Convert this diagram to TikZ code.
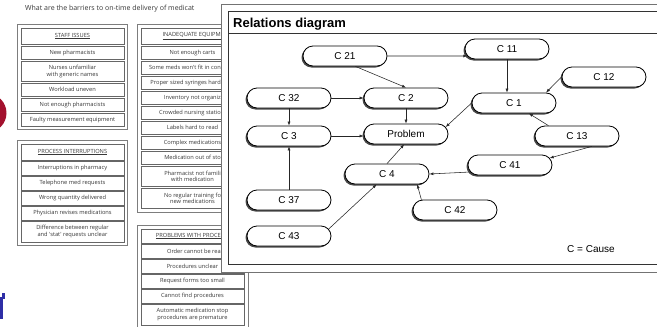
\documentclass[tikz,border=0pt]{standalone}
\usepackage{fontspec}
\setmainfont{Liberation Sans}
\newfontfamily\handfont{Open Sans}
\usetikzlibrary{shapes.misc,shadows,arrows.meta}
\definecolor{inkgrey}{HTML}{383838}
\definecolor{boxgrey}{HTML}{666666}
\definecolor{logored}{HTML}{A3112E}
\definecolor{logoblue}{HTML}{2E2EA6}

\tikzset{
  groupbox/.style={draw=boxgrey!85, line width=0.6pt, fill=white},
  itembox/.style={draw=boxgrey, line width=0.7pt, fill=white, minimum width=103pt, inner sep=0pt},
  itemtext/.style={text=inkgrey, font=\handfont\fontsize{5.7}{6.7}\selectfont, align=center, inner sep=0pt},
  cause/.style={rounded rectangle, draw=black, line width=0.8pt, fill=white,
    minimum width=84pt, minimum height=20pt, inner sep=0pt, font=\fontsize{10}{12}\selectfont,
    drop shadow={shadow xshift=-1.5pt, shadow yshift=-1.5pt, fill=black!75, opacity=0.95}},
  rel/.style={-{Latex[length=4pt,width=3pt]}, line width=0.55pt, black!85},
}

\begin{document}
\begin{tikzpicture}[x=1pt, y=-1pt]
\useasboundingbox (0,0) rectangle (657,327);
\clip (0,0) rectangle (657,327);
\fill[white] (0,0) rectangle (657,327);

% bits of the logo at the left edge
\fill[logored] (-13,113) circle (19.5);
\fill[logoblue] (0,297) rectangle (3,319);
\fill[logoblue] (2,293) rectangle (5,299);

% affinity chart in the back
\node[itemtext, anchor=west, font=\handfont\fontsize{7}{8}\selectfont] (question) at (25,9)
  {What are the barriers to on-time delivery of medicat};

\draw[groupbox] (17,24) rectangle (127,129);
\foreach \ya/\yb/\txt [count=\i] in {28/44/{\underline{STAFF ISSUES}},
    46/59.5/New pharmacists, 61/81.5/{Nurses unfamiliar\\with generic names},
    83/96.5/Workload uneven, 98/111.5/Not enough pharmacists,
    113/126.5/Faulty measurement equipment}
  \node[itembox, itemtext, minimum height={\yb-\ya}] (staff\i) at (72.5,{(\ya+\yb)/2}) {\txt};

\draw[groupbox] (17,140) rectangle (127,245);
\foreach \ya/\yb/\txt [count=\i] in {144/160/{\underline{PROCESS INTERRUPTIONS}},
    161.5/175/Interruptions in pharmacy, 176.5/190/Telephone med requests,
    191.5/205/Wrong quantity delivered, 206.5/220/Physician revises medications,
    221.5/242/{Difference between regular\\and 'stat' requests unclear}}
  \node[itembox, itemtext, minimum height={\yb-\ya}] (interr\i) at (72.5,{(\ya+\yb)/2}) {\txt};

\draw[groupbox] (137,24) rectangle (248,212);
\foreach \ya/\yb/\xt/\anc/\txt [count=\i] in {28/44/221/east/{\underline{INADEQUATE EQUIPM}},
    46/59.5/192.5/center/Not enough carts, 61/74.5/221/east/Some meds won't fit in con,
    76/89.5/221/east/Proper sized syringes hard, 91/104.5/221/east/Inventory not organiz,
    106/119.5/221/east/Crowded nursing statio, 121/134.5/192.5/center/Labels hard to read,
    136/149.5/192.5/center/Complex medications, 151/164.5/221/east/Medication out of sto,
    166/186.5/192.5/center/{Pharmacist not famili\\with medication},
    188/208.5/192.5/center/{No regular training fo\\new medications}}
{
  \node[itembox, minimum height={\yb-\ya}] (equip\i) at (192.5,{(\ya+\yb)/2}) {};
  \node[itemtext, anchor=\anc] (equipt\i) at (\xt,{(\ya+\yb)/2}) {\txt};
}

\draw[groupbox] (137,225) rectangle (248,332);
\foreach \ya/\yb/\xt/\anc/\txt [count=\i] in {229/243/221/east/{\underline{PROBLEMS WITH PROCE}},
    244.5/258/221/east/Order cannot be rea, 259.5/273/192.5/center/Procedures unclear,
    274.5/288/192.5/center/Request forms too small, 289.5/303/192.5/center/Cannot find procedures,
    304.5/325/192.5/center/{Automatic medication stop\\procedures are premature}}
{
  \node[itembox, minimum height={\yb-\ya}] (proc\i) at (192.5,{(\ya+\yb)/2}) {};
  \node[itemtext, anchor=\anc] (proct\i) at (\xt,{(\ya+\yb)/2}) {\txt};
}

% relations diagram panel on top
\fill[white] (221,4) rectangle (662,272);
\draw[black!55, line width=0.8pt] (221,4) rectangle (662,272);
\draw[black!80, line width=0.7pt] (228,11) rectangle (662,264);
\draw[black!80, line width=0.7pt] (228,33) -- (662,33);
\node[anchor=base west, inner sep=0pt, font=\bfseries\fontsize{13}{15}\selectfont] (title) at (233,27) {Relations diagram};

\node[cause] (c21) at (345,56) {C 21};
\node[cause] (c11) at (507,49) {C 11};
\node[cause] (c12) at (604,77) {C 12};
\node[cause] (c32) at (289,98) {C 32};
\node[cause] (c2) at (406,98) {C 2};
\node[cause] (c1) at (514,103) {C 1};
\node[cause] (c3) at (289,136) {C 3};
\node[cause] (prob) at (406,134) {Problem};
\node[cause] (c13) at (577,136) {C 13};
\node[cause] (c41) at (510,165) {C 41};
\node[cause] (c4) at (387,174) {C 4};
\node[cause] (c37) at (289,200) {C 37};
\node[cause] (c42) at (455,210) {C 42};
\node[cause] (c43) at (289,236) {C 43};

\draw[rel] (c21.east) -- (c11.190);
\draw[rel] (c21.-45) -- (c2.north);
\draw[rel] (c11.south) -- (c11.south |- c1.north);
\draw[rel] (c12.west) -- (c1.18);
\draw[rel] (c32.east) -- (c2.west);
\draw[rel] (c32.south) -- (c3.north);
\draw[rel] (c2.south) -- (prob.north);
\draw[rel] (c3.east) -- (c3.east -| prob.west);
\draw[rel] (c1.west) -- (prob.10);
\draw[rel] (c13.160) -- (c1.-35);
\draw[rel] (c13.-35) -- (c41.10);
\draw[rel] (c4.north) -- (prob.-100);
\draw[rel] (c41.190) -- (c4.east);
\draw[rel] (c42.163) -- (c4.-19);
\draw[rel] (c37.north) -- (c3.south);
\draw[rel] (c43.10) -- (c4.-135);

\node[font=\fontsize{10}{12}\selectfont] (legend) at (591,249) {C = Cause};
\end{tikzpicture}
\end{document}
